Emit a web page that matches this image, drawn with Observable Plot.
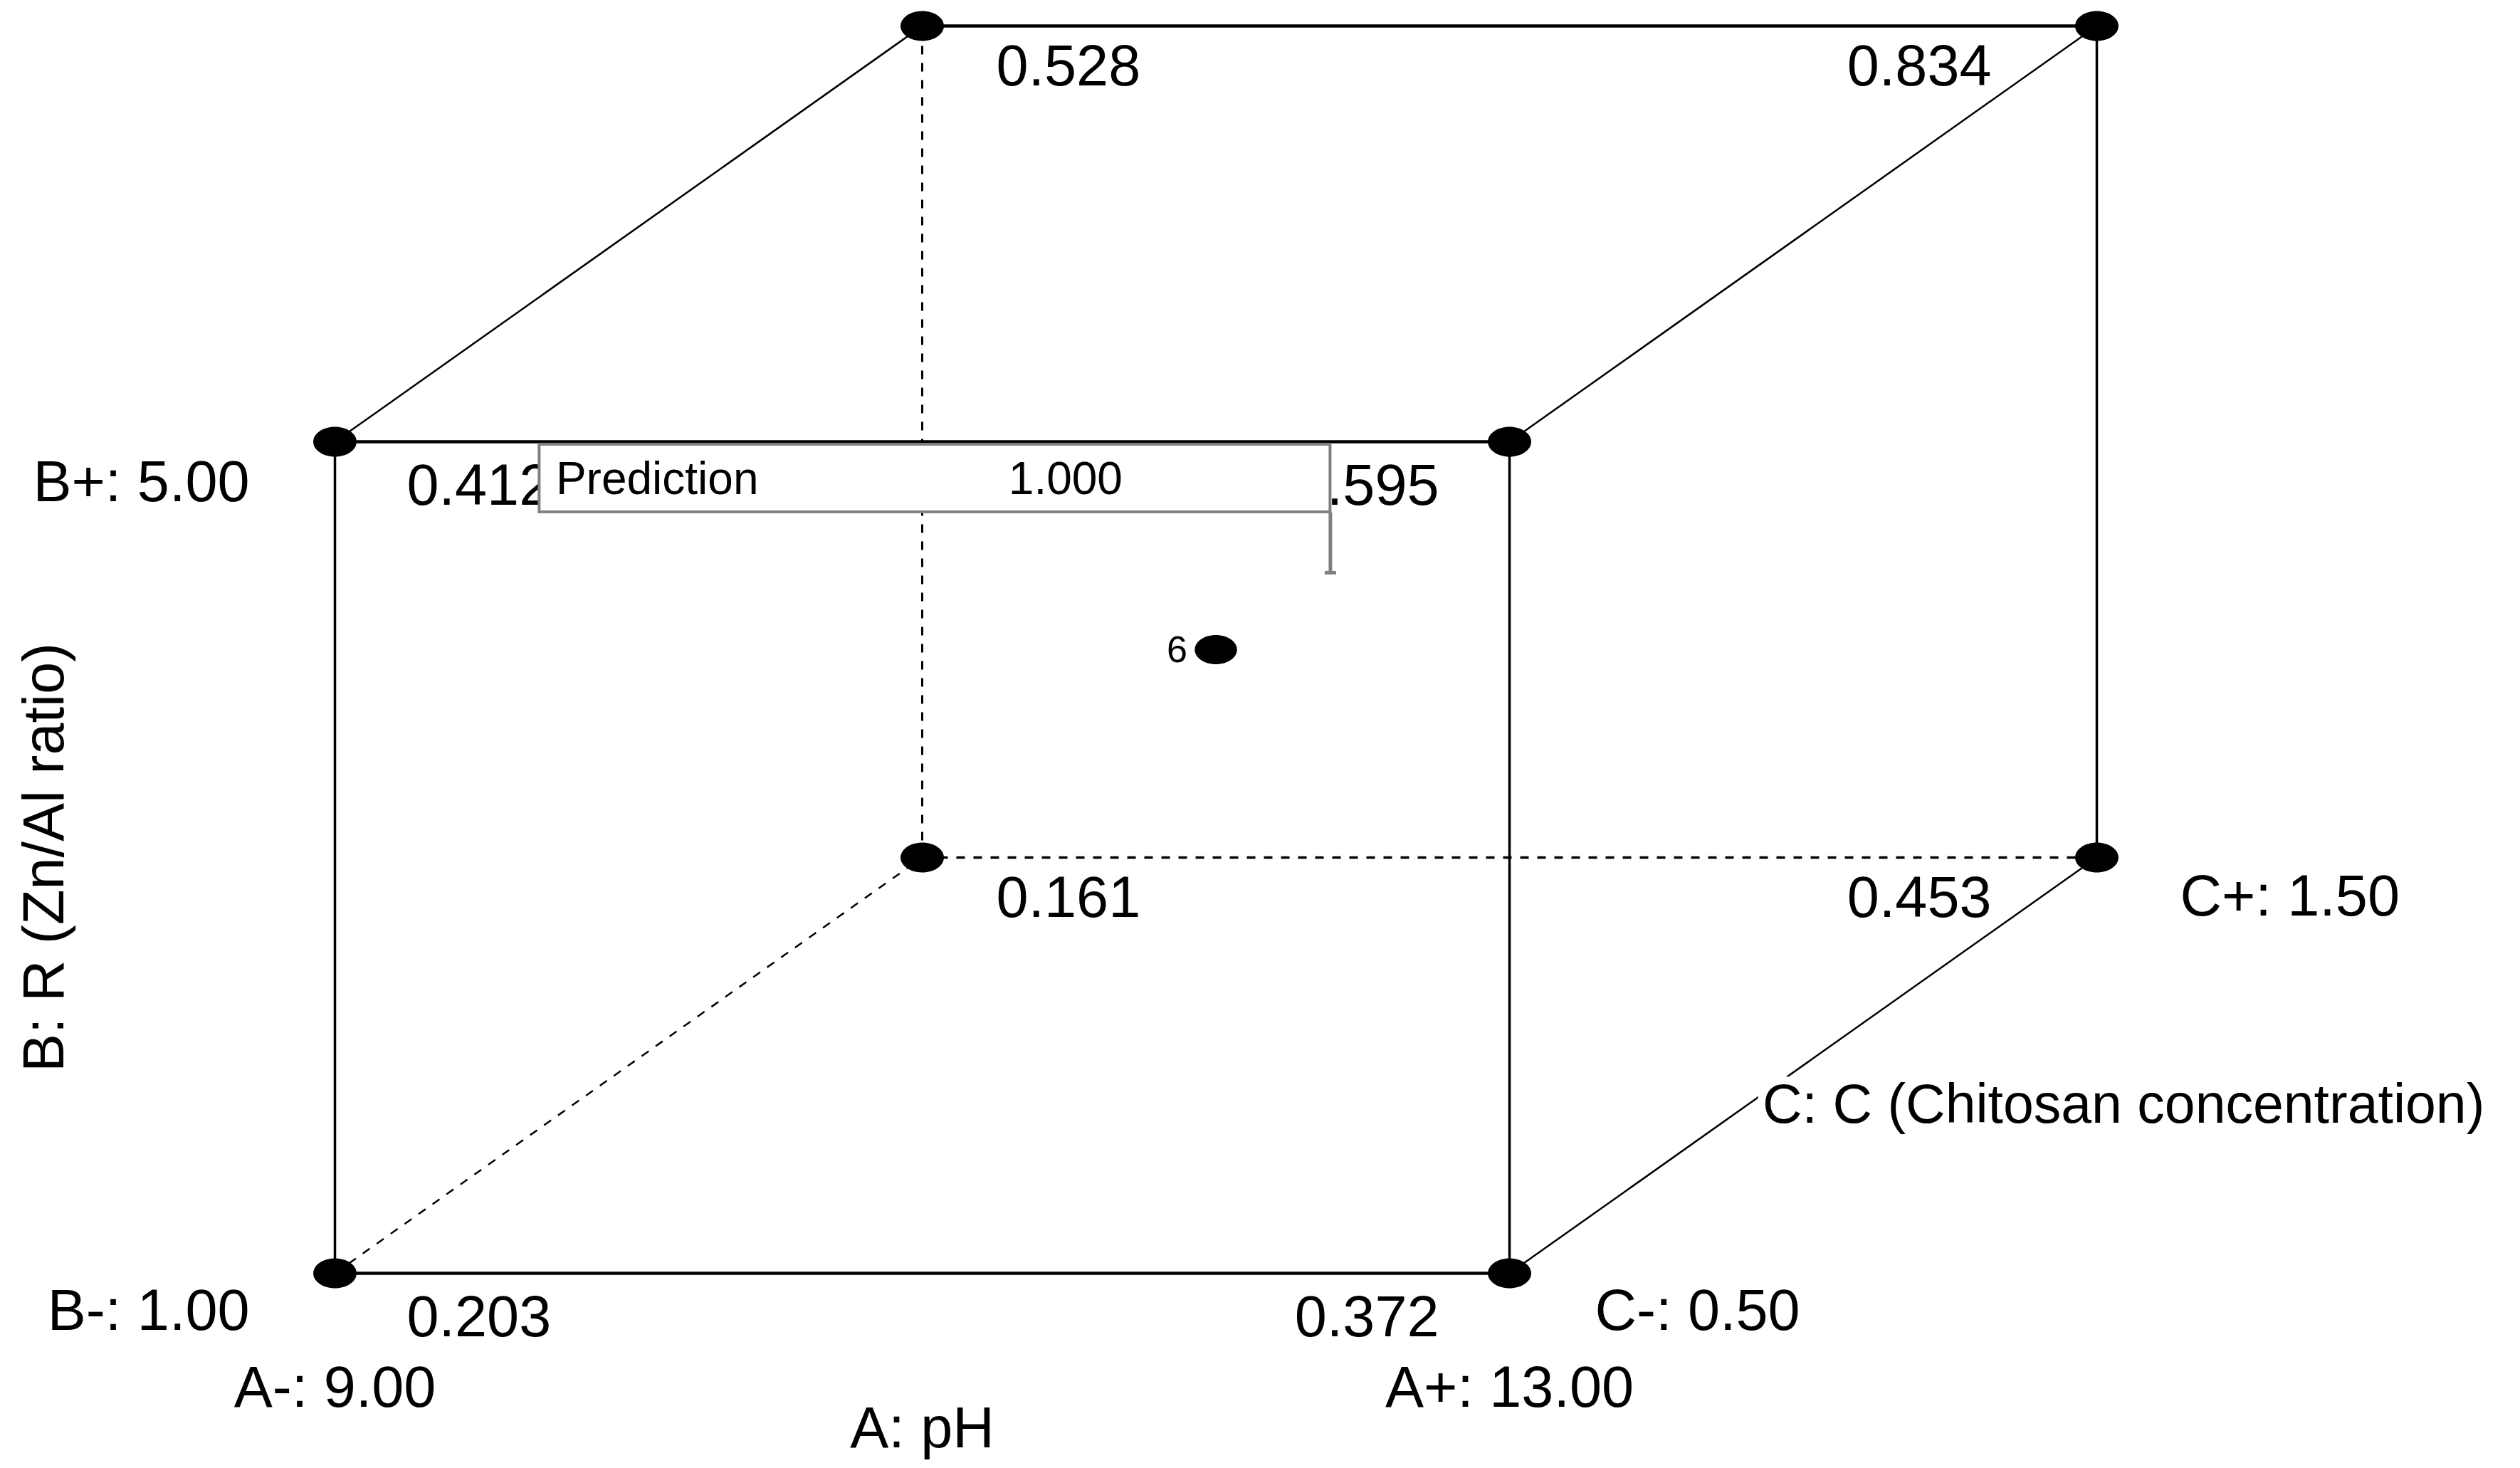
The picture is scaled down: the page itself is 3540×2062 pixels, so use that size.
<!DOCTYPE html>
<html><head><meta charset="utf-8">
<script src="https://cdn.jsdelivr.net/npm/d3@7"></script>
<script src="https://cdn.jsdelivr.net/npm/@observablehq/plot@0.6"></script>
<style>html,body{margin:0;padding:0;background:#fff}#chart svg{display:block}</style>
</head><body><div id="chart"></div>
<script>
// ---- data ----
const factorLetters = ["A", "B", "C"];
const factorNames = ["A: pH", "B: R (Zn/Al ratio)", "C: C (Chitosan concentration)"];
const lowLevels = [9.00, 1.00, 0.50];
const highLevels = [13.00, 5.00, 1.50];

// cube corners (coded levels) and the response at each corner
const codedA = [-1, 1, -1, 1, -1, 1, -1, 1];
const codedB = [-1, -1, 1, 1, -1, -1, 1, 1];
const codedC = [-1, -1, -1, -1, 1, 1, 1, 1];
const responses = [0.203, 0.372, 0.412, 0.595, 0.161, 0.453, 0.528, 0.834];

// centre point replicates
const centerCount = 6;

// prediction flag
const predLabel = "Prediction";
const predSetting = [12.39, 4.37, 0.50]; // A, B, C
const predValue = 1.000;

// cube edges [from, to, dashed]
const edgeFrom = [0, 2, 0, 1, 2, 3, 6, 7, 1, 0, 4, 4];
const edgeTo   = [1, 3, 2, 3, 6, 7, 7, 5, 5, 4, 5, 6];
const edgeDashed = [false, false, false, false, false, false, false, false, false, true, true, true];

// ---- layout ----
const W = 3540, H = 2062;
const mL = 470, mR = 595, mT = 36, mB = 274;
const PX = (W - mL - mR) / 3, PY = (H - mT - mB) / 3;
const FONT = "Liberation Sans, Arial, Helvetica, sans-serif";
const FS = 81;

const proj = (a, b, c) => ({X: a + (c + 1) / 2, Y: b + (c + 1) / 2});
const toCoded = (v, i) => (v - (lowLevels[i] + highLevels[i]) / 2) / ((highLevels[i] - lowLevels[i]) / 2);

const corners = responses.map((r, i) => ({a: codedA[i], b: codedB[i], c: codedC[i], r, ...proj(codedA[i], codedB[i], codedC[i])}));
const centers = [{n: centerCount, ...proj(0, 0, 0)}];
const pred = [{v: predValue, ...proj(toCoded(predSetting[0], 0), toCoded(predSetting[1], 1), toCoded(predSetting[2], 2))}];

const ellipse = {draw(ctx, size) {
  const r = Math.sqrt(size / Math.PI), rx = r * 1.45, ry = r, k = 0.5523;
  ctx.moveTo(rx, 0);
  ctx.bezierCurveTo(rx, ry * k, rx * k, ry, 0, ry);
  ctx.bezierCurveTo(-rx * k, ry, -rx, ry * k, -rx, 0);
  ctx.bezierCurveTo(-rx, -ry * k, -rx * k, -ry, 0, -ry);
  ctx.bezierCurveTo(rx * k, -ry, rx, -ry * k, rx, 0);
  ctx.closePath();
}};
const capBar = {draw(ctx) { ctx.rect(-8, -2.5, 16, 5); }};

// ---- edges ----
const edgeMarks = edgeFrom.map((f, i) => {
  const p = corners[f], q = corners[edgeTo[i]];
  const horiz = p.Y === q.Y, vert = p.X === q.X;
  const sw = edgeDashed[i] ? (horiz ? 3.5 : vert ? 3 : 2.5) : (horiz ? 4.5 : vert ? 3.5 : 2.5);
  return Plot.link([{x1: p.X, y1: p.Y, x2: q.X, y2: q.Y}], {
    x1: "x1", y1: "y1", x2: "x2", y2: "y2", stroke: "black", strokeWidth: sw,
    strokeDasharray: edgeDashed[i] ? "12,12" : null
  });
});

// ---- corner response labels ----
const cornerLabelMarks = corners.map(d => {
  const front = d.c < 0;
  const dx = d.a < 0 ? (front ? 101 : 104) : (front ? -99 : -148);
  const dy = front ? 88 : 83;
  return Plot.text([d], {x: "X", y: "Y", text: d => d.r.toFixed(3), textAnchor: d.a < 0 ? "start" : "end",
    lineAnchor: "bottom", dx, dy, fontSize: FS, fontFamily: FONT, fill: "black"});
});

// ---- factor labels ----
const c0 = corners[0], c1 = corners[1], c2 = corners[2], c5 = corners[5];
const lvl = (i, hi) => `${factorLetters[i]}${hi ? "+" : "-"}: ${(hi ? highLevels[i] : lowLevels[i]).toFixed(2)}`;
const factorLabels = [
  {X: c0.X, Y: c0.Y, text: lvl(0, false), anchor: "middle", dx: 0, dy: 187},
  {X: c1.X, Y: c1.Y, text: lvl(0, true), anchor: "middle", dx: 0, dy: 187},
  {X: (c0.X + c1.X) / 2, Y: c0.Y, text: factorNames[0], anchor: "middle", dx: 0, dy: 244},
  {X: c0.X, Y: c0.Y, text: lvl(1, false), anchor: "end", dx: -120, dy: 79},
  {X: c2.X, Y: c2.Y, text: lvl(1, true), anchor: "end", dx: -120, dy: 83},
  {X: c1.X, Y: c1.Y, text: lvl(2, false), anchor: "start", dx: 120, dy: 79},
  {X: c5.X, Y: c5.Y, text: lvl(2, true), anchor: "start", dx: 117, dy: 81},
  {X: (c1.X + c5.X) / 2, Y: (c1.Y + c5.Y) / 2, text: factorNames[2], anchor: "start", dx: -57, dy: 80, halo: true, size: 77}
];
const factorMarks = factorLabels.map(l => Plot.text([l], {x: "X", y: "Y", text: "text", textAnchor: l.anchor,
  lineAnchor: "bottom", dx: l.dx, dy: l.dy, fontSize: l.size || FS, fontFamily: FONT, fill: "black",
  stroke: l.halo ? "white" : null, strokeWidth: l.halo ? 22 : null}));
const bAxisMark = Plot.text([{X: c0.X, Y: (c0.Y + c2.Y) / 2, text: factorNames[1]}], {x: "X", y: "Y", text: "text",
  rotate: -90, textAnchor: "middle", dx: -407, dy: 0, fontSize: FS, fontFamily: FONT, fill: "black"});

// ---- prediction flag ----
const FLAG_W = 1111, FLAG_H = 95, FLAG_GAP = 85;
const flagMarks = [
  Plot.link(pred, {x1: "X", x2: "X", y1: d => d.Y + FLAG_GAP / PY, y2: "Y", stroke: "#808080", strokeWidth: 5}),
  Plot.dot(pred, {x: "X", y: "Y", symbol: capBar, fill: "#808080", stroke: null}),
  Plot.rect(pred, {x1: d => d.X - FLAG_W / PX, x2: "X", y1: d => d.Y + FLAG_GAP / PY, y2: d => d.Y + (FLAG_GAP + FLAG_H) / PY,
    fill: "white", stroke: "#808080", strokeWidth: 4}),
  Plot.text(pred, {x: "X", y: "Y", text: () => predLabel, textAnchor: "start", lineAnchor: "bottom",
    dx: -FLAG_W + 23, dy: -110, fontSize: 64, fontFamily: FONT, fill: "black"}),
  Plot.text(pred, {x: "X", y: "Y", text: d => d.v.toFixed(3), textAnchor: "middle", lineAnchor: "bottom",
    dx: -372, dy: -110, fontSize: 64, fontFamily: FONT, fill: "black"})
];

const chart = Plot.plot({
  width: W, height: H,
  marginLeft: mL, marginRight: mR, marginTop: mT, marginBottom: mB,
  x: {domain: [-1, 2], axis: null},
  y: {domain: [-1, 2], axis: null},
  style: {background: "white"},
  marks: [
    ...edgeMarks,
    Plot.dot(corners, {x: "X", y: "Y", r: 21, symbol: ellipse, fill: "black", stroke: null}),
    Plot.dot(centers, {x: "X", y: "Y", r: 20.5, symbol: ellipse, fill: "black", stroke: null}),
    Plot.text(centers, {x: "X", y: "Y", text: d => String(d.n), textAnchor: "end", lineAnchor: "bottom",
      dx: -40, dy: 17, fontSize: 52, fontFamily: FONT, fill: "black"}),
    ...cornerLabelMarks,
    ...factorMarks,
    bAxisMark,
    ...flagMarks
  ]
});
document.getElementById("chart").appendChild(chart);
</script>
</body></html>
